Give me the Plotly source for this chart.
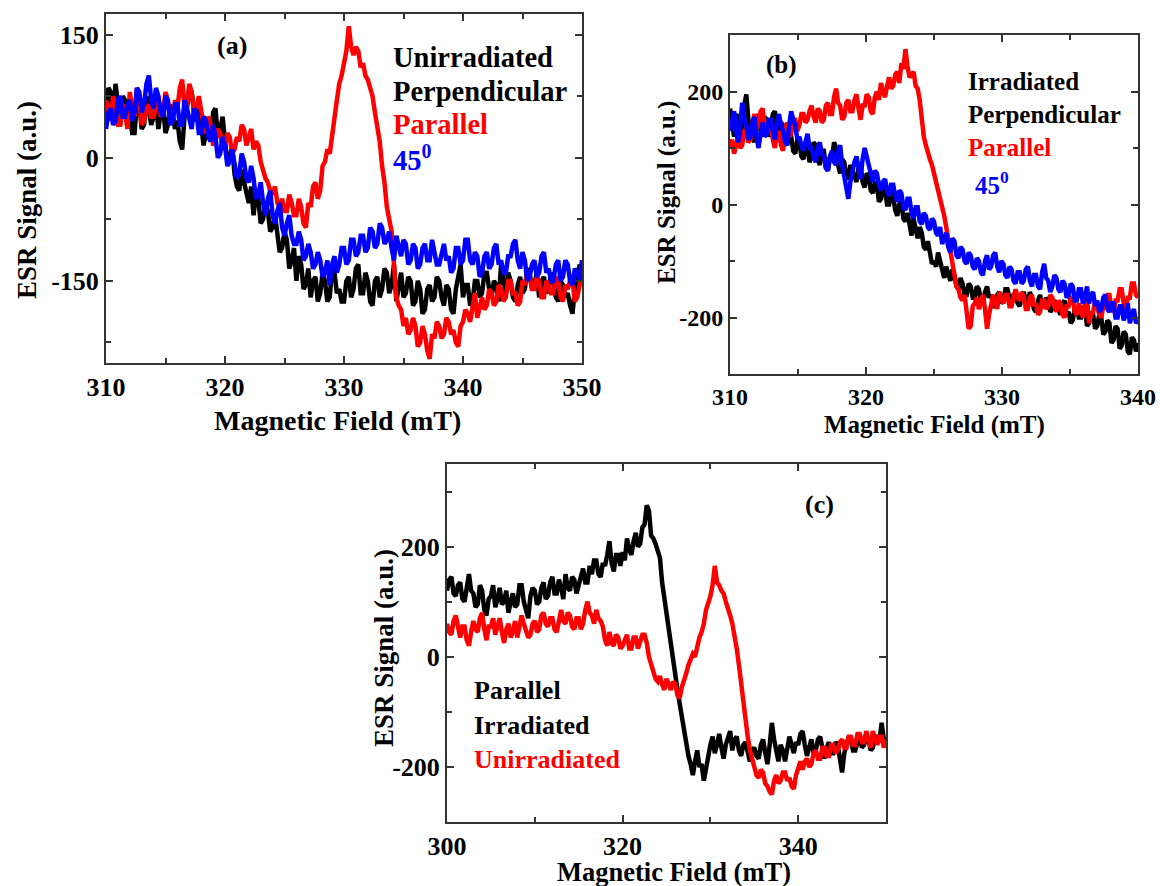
import numpy as np
import plotly.graph_objects as go

# ================= data: panel (a)  (310-350 mT) =================
a_perpendicular = [
    45, 85, 80, 50, 90, 65, 40, 75, 70, 45, 55, 30, 30, 70, 65, 35, 40, 75, 60, 40,
    50, 70, 35, 55, 60, 30, 40, 65, 55, 35, 45, 20, 10, 50, 60, 85, 80, 55, 45, 60,
    40, 15, 30, 45, 20, 55, 60, 25, 35, 50, 20, -5, 0, 15, -20, -35, -40, -15, -30, -45,
    -55, -35, -70, -45, -50, -80, -75, -55, -65, -90, -85, -70, -95, -115, -110, -90, -100, -135, -125, -110,
    -150, -120, -130, -160, -155, -135, -170, -150, -145, -175, -165, -140, -150, -175, -170, -135, -140, -165, -160, -175,
    -175, -150, -145, -170, -160, -135, -130, -165, -165, -140, -150, -175, -180, -150, -145, -170, -160, -135, -140, -165,
    -155, -130, -175, -160, -140, -170, -165, -145, -150, -180, -175, -150, -160, -190, -185, -160, -155, -175, -170, -145,
    -150, -170, -180, -155, -160, -185, -190, -160, -145, -130, -170, -155, -155, -180, -175, -150, -150, -170, -165, -140,
    -140, -160, -170, -150, -155, -175, -130, -150, -165, -140, -150, -170, -175, -155, -145, -165, -160, -135, -140, -160,
    -155, -140, -170, -150, -145, -165, -160, -140, -150, -170, -175, -150, -155, -170, -165, -180, -190, -160, -150, -130,
    -145]
a_parallel = [
    70, 55, 45, 75, 60, 40, 40, 65, 55, 35, 80, 60, 50, 85, 70, 40, 45, 60, 65, 50,
    50, 65, 75, 50, 55, 80, 70, 45, 45, 70, 60, 85, 95, 60, 65, 90, 80, 55, 60, 75,
    55, 40, 30, 50, 40, 15, 20, 35, 30, 10, 15, 30, 25, 5, 10, 25, 20, 40, 35, 15,
    25, 35, 10, 20, 15, -5, -15, -25, -30, -40, -45, -35, -55, -60, -50, -65, -65, -45, -55, -70,
    -70, -50, -60, -80, -85, -55, -60, -35, -30, -50, -40, -10, -5, 10, 5, 30, 55, 70, 90, 100,
    115, 130, 160, 135, 125, 135, 130, 110, 115, 100, 95, 85, 75, 55, 40, 20, -10, -30, -60, -75,
    -90, -130, -170, -180, -185, -205, -195, -215, -210, -195, -205, -230, -225, -205, -215, -235, -245, -215, -220, -200,
    -205, -220, -215, -195, -200, -215, -210, -225, -230, -205, -200, -185, -190, -200, -180, -165, -195, -180, -170, -185,
    -180, -160, -165, -180, -175, -155, -160, -175, -170, -150, -150, -165, -165, -180, -175, -150, -155, -140, -145, -160,
    -160, -145, -150, -170, -170, -150, -155, -165, -165, -145, -150, -170, -175, -155, -160, -150, -150, -175, -170, -155,
    -140]
a_45deg = [
    35, 55, 60, 40, 45, 70, 75, 50, 50, 65, 70, 45, 55, 85, 80, 55, 65, 90, 100, 70,
    60, 85, 75, 55, 50, 75, 70, 40, 45, 65, 65, 40, 40, 70, 60, 45, 35, 60, 55, 30,
    30, 50, 45, 25, 20, 40, 25, 0, 5, 25, 15, -10, -5, 10, -10, -25, -20, 5, -5, -25,
    -30, -10, -25, -50, -45, -30, -55, -70, -50, -40, -70, -80, -65, -55, -85, -95, -80, -70, -95, -105,
    -105, -90, -100, -125, -120, -105, -115, -135, -130, -115, -125, -145, -140, -125, -155, -130, -120, -140, -130, -110,
    -110, -130, -125, -100, -100, -120, -115, -95, -95, -115, -110, -85, -90, -110, -105, -80, -85, -105, -100, -90,
    -110, -125, -95, -110, -120, -100, -105, -130, -125, -105, -110, -135, -130, -110, -105, -125, -125, -100, -115, -130,
    -130, -115, -105, -125, -120, -140, -135, -110, -110, -130, -125, -100, -100, -125, -130, -115, -120, -145, -140, -120,
    -115, -135, -130, -110, -105, -130, -125, -140, -140, -120, -120, -105, -100, -125, -135, -115, -125, -150, -145, -130,
    -125, -145, -140, -120, -115, -140, -135, -150, -150, -130, -125, -150, -145, -125, -130, -150, -155, -135, -140, -150,
    -125]

# ================= data: panel (b)  (310-340 mT) =================
b_perpendicular = [
    170, 140, 120, 150, 160, 115, 130, 175, 195, 150, 140, 120, 110, 145, 160, 130, 125, 155, 150, 120,
    135, 160, 165, 130, 115, 145, 140, 110, 105, 130, 120, 95, 90, 115, 110, 85, 80, 105, 100, 75,
    85, 110, 105, 80, 70, 95, 95, 65, 60, 85, 80, 110, 100, 70, 55, 80, 75, 50, 45, 70,
    60, 45, 40, 65, 70, 40, 30, 55, 50, 25, 20, 40, 35, 5, 10, 30, 25, 0, 0, 20,
    15, -10, -20, 0, 5, -25, -30, -15, -40, -55, -25, -45, -60, -40, -50, -75, -80, -65, -90, -105,
    -100, -110, -85, -100, -120, -130, -110, -125, -135, -115, -125, -145, -150, -130, -140, -160, -160, -140, -145, -165,
    -165, -145, -150, -170, -175, -155, -145, -165, -160, -180, -180, -160, -155, -175, -170, -150, -150, -165, -175, -160,
    -160, -175, -180, -160, -155, -170, -175, -155, -165, -185, -190, -170, -160, -180, -180, -165, -170, -190, -185, -170,
    -175, -185, -195, -175, -170, -195, -190, -210, -205, -185, -180, -200, -200, -180, -185, -215, -210, -190, -195, -220,
    -215, -195, -200, -230, -225, -205, -210, -245, -240, -215, -220, -255, -250, -225, -230, -260, -265, -235, -240, -260,
    -245]
b_parallel = [
    100, 115, 90, 105, 120, 100, 105, 130, 135, 110, 115, 145, 160, 135, 140, 165, 170, 140, 125, 150,
    140, 115, 100, 125, 130, 105, 95, 130, 145, 120, 125, 150, 150, 130, 140, 160, 160, 145, 150, 165,
    175, 155, 145, 170, 165, 145, 150, 175, 180, 160, 160, 190, 205, 180, 175, 150, 155, 180, 185, 165,
    165, 185, 195, 170, 150, 175, 175, 195, 190, 165, 160, 190, 200, 185, 215, 200, 190, 210, 225, 205,
    210, 230, 235, 215, 250, 240, 275, 245, 225, 230, 235, 210, 205, 185, 150, 120, 105, 90, 80, 70,
    55, 45, 25, 15, -5, -20, -40, -60, -85, -110, -130, -145, -150, -165, -170, -160, -190, -220, -215, -180,
    -175, -165, -185, -170, -160, -185, -220, -195, -180, -160, -170, -185, -155, -165, -175, -160, -160, -180, -180, -165,
    -150, -165, -170, -155, -165, -185, -185, -165, -160, -180, -175, -195, -190, -170, -170, -185, -180, -160, -165, -180,
    -190, -170, -175, -195, -200, -180, -180, -165, -165, -190, -195, -175, -185, -200, -175, -165, -210, -195, -190, -170,
    -180, -195, -200, -180, -175, -160, -160, -185, -190, -170, -170, -150, -150, -175, -185, -165, -165, -140, -140, -160,
    -165]
b_45deg = [
    130, 150, 165, 130, 110, 140, 180, 155, 140, 115, 120, 145, 155, 120, 100, 125, 145, 120, 125, 150,
    150, 130, 115, 145, 160, 140, 130, 110, 105, 140, 165, 150, 140, 115, 120, 105, 95, 110, 125, 100,
    100, 85, 75, 100, 110, 90, 85, 65, 60, 85, 95, 75, 70, 95, 105, 70, 50, 30, 10, 40,
    60, 75, 85, 60, 45, 80, 100, 85, 70, 50, 40, 60, 55, 35, 25, 40, 45, 25, 15, 35,
    35, 15, 5, 25, 20, -5, -10, 10, 10, -15, -25, -5, -5, -30, -35, -15, -20, -40, -45, -25,
    -30, -50, -55, -40, -70, -60, -50, -75, -85, -60, -65, -90, -95, -75, -80, -100, -105, -85, -90, -110,
    -115, -95, -100, -120, -125, -100, -90, -115, -110, -90, -85, -110, -120, -100, -105, -125, -130, -110, -115, -135,
    -140, -120, -120, -140, -135, -115, -110, -135, -145, -125, -125, -145, -150, -120, -105, -130, -135, -155, -145, -125,
    -130, -150, -155, -135, -140, -165, -160, -140, -145, -170, -170, -150, -150, -175, -165, -145, -175, -160, -155, -180,
    -170, -190, -185, -165, -160, -185, -190, -175, -175, -200, -200, -180, -180, -205, -195, -175, -210, -195, -185, -210,
    -205]

# ================= data: panel (c)  (300-350 mT) =================
c_irradiated = [
    120, 140, 145, 115, 110, 130, 135, 105, 100, 125, 150, 120, 115, 90, 95, 130, 120, 85, 75, 105,
    110, 130, 90, 105, 125, 95, 100, 120, 80, 100, 115, 90, 95, 130, 130, 100, 85, 70, 110, 125,
    120, 95, 100, 125, 135, 105, 110, 135, 145, 115, 115, 140, 125, 105, 150, 125, 120, 145, 140, 115,
    130, 150, 160, 135, 135, 165, 150, 175, 175, 150, 145, 170, 165, 185, 210, 170, 155, 185, 185, 165,
    190, 175, 215, 195, 185, 210, 225, 200, 205, 235, 240, 275, 265, 220, 215, 205, 195, 180, 135, 105,
    85, 55, 15, -10, -35, -60, -85, -110, -130, -155, -180, -195, -215, -190, -170, -200, -195, -225, -200, -175,
    -160, -145, -175, -160, -140, -165, -185, -160, -150, -135, -170, -150, -145, -170, -180, -160, -155, -175, -190, -170,
    -165, -180, -185, -160, -150, -175, -195, -160, -120, -150, -175, -190, -160, -170, -190, -165, -145, -160, -175, -155,
    -160, -140, -135, -160, -180, -165, -150, -175, -170, -150, -145, -165, -185, -165, -155, -175, -175, -155, -160, -185,
    -210, -175, -160, -145, -150, -170, -170, -150, -140, -165, -160, -145, -150, -170, -165, -145, -145, -155, -120, -150,
    -160]
c_unirradiated = [
    60, 45, 40, 65, 75, 50, 35, 55, 55, 30, 20, 45, 65, 50, 45, 70, 80, 50, 30, 55,
    55, 70, 40, 55, 70, 45, 25, 50, 60, 35, 45, 65, 35, 55, 75, 60, 50, 35, 40, 60,
    65, 45, 50, 75, 80, 60, 55, 70, 70, 50, 45, 65, 85, 65, 60, 80, 75, 55, 50, 70,
    70, 50, 60, 85, 100, 80, 75, 60, 85, 70, 65, 55, 30, 20, 45, 25, 20, 40, 35, 15,
    20, 30, 40, 15, 15, 35, 35, 15, 25, 40, 40, 25, 0, -15, -25, -40, -45, -35, -50, -60,
    -40, -50, -60, -45, -50, -70, -75, -55, -45, -30, -15, -5, 5, 0, 20, 35, 45, 60, 85, 95,
    110, 130, 165, 135, 130, 120, 115, 100, 90, 75, 60, 40, 15, -15, -50, -90, -120, -145, -170, -190,
    -200, -215, -220, -205, -210, -230, -235, -245, -250, -225, -215, -230, -225, -210, -210, -225, -220, -235, -240, -215,
    -200, -190, -205, -190, -185, -200, -195, -175, -170, -185, -185, -165, -165, -180, -180, -160, -160, -175, -170, -155,
    -150, -165, -165, -145, -145, -160, -160, -140, -140, -155, -155, -135, -150, -165, -135, -150, -160, -145, -145, -165,
    -150]

# field sweeps (mT): start, stop of each recorded scan
field_a = np.linspace(310.0, 350.0, len(a_parallel))
field_b = np.linspace(310.0, 340.0, len(b_parallel))
field_c = np.linspace(300.0, 350.0, len(c_irradiated))

# ================= ticks and labels =================
a_xticks = [310, 320, 330, 340, 350]
a_yticks = [-150, 0, 150]
b_xticks = [310, 320, 330, 340]
b_yticks = [-200, 0, 200]
c_xticks = [300, 320, 340]
c_yticks = [-200, 0, 200]
x_title = "Magnetic Field (mT)"
y_title = "ESR Signal (a.u.)"

W, H = 1160, 886
FONT = "Liberation Serif"

fig = go.Figure()

def add(x, y, color, xa, ya):
    fig.add_trace(go.Scatter(x=x, y=y, mode="lines",
                             line=dict(color=color, width=4.5),
                             xaxis=xa, yaxis=ya, showlegend=False, hoverinfo="skip"))

add(field_a, a_perpendicular, "#000000", "x", "y")
add(field_a, a_parallel, "#ff0000", "x", "y")
add(field_a, a_45deg, "#0000ff", "x", "y")
add(field_b, b_perpendicular, "#000000", "x2", "y2")
add(field_b, b_parallel, "#ff0000", "x2", "y2")
add(field_b, b_45deg, "#0000ff", "x2", "y2")
add(field_c, c_irradiated, "#000000", "x3", "y3")
add(field_c, c_unirradiated, "#ff0000", "x3", "y3")

def px(x0, x1):
    return [x0 / W, x1 / W]

def py(y0, y1):
    return [1 - y1 / H, 1 - y0 / H]

def axis(domain, rng, vals, mdtick, size, anchor):
    return dict(domain=domain, range=rng, tickmode="array", tickvals=vals,
                ticktext=[str(v) for v in vals],
                showline=True, linecolor="#333333", linewidth=2,
                mirror="allticks", ticks="inside", ticklen=7, tickwidth=1.5,
                tickcolor="#333333", showgrid=False, zeroline=False,
                anchor=anchor,
                minor=dict(tickmode="linear", dtick=mdtick, tick0=0, ticks="inside",
                           ticklen=5, tickwidth=1.5, tickcolor="#333333", showgrid=False),
                tickfont=dict(family=FONT, size=size, color="#000000", weight=700))

fig.update_layout(
    width=W, height=H, margin=dict(l=0, r=0, t=0, b=0, autoexpand=False),
    paper_bgcolor="white", plot_bgcolor="white",
    xaxis=axis(px(106, 582), [310, 350], a_xticks, 5, 26, "y"),
    yaxis=axis(py(14, 363), [-250, 175], a_yticks, 75, 26, "x"),
    xaxis2=axis(px(730, 1138), [310, 340], b_xticks, 5, 24, "y2"),
    yaxis2=axis(py(35, 374), [-300, 300], b_yticks, 100, 24, "x2"),
    xaxis3=axis(px(447, 886), [300, 350], c_xticks, 10, 26, "y3"),
    yaxis3=axis(py(464, 822), [-300, 350], c_yticks, 100, 26, "x3"),
)

def note(text, x, y, size, color="#000000", xanchor="left", angle=0):
    fig.add_annotation(text=text, x=x / W, y=1 - y / H, xref="paper", yref="paper",
                       xanchor=xanchor, yanchor="middle", showarrow=False, textangle=angle,
                       font=dict(family=FONT, size=size, color=color, weight=700))

# panel (a)
note("(a)", 232, 45, 26, xanchor="center")
note("Unirradiated", 391, 57, 28.5)
note("Perpendicular", 391, 91, 28.5)
note("Parallel", 391, 124, 28.5, "#ff0000")
note("45<sup>0</sup>", 391, 158, 28.5, "#0000ff")
note(x_title, 337, 420, 28, xanchor="center")
note(y_title, 27, 200, 27, xanchor="center", angle=-90)
# panel (b)
note("(b)", 781, 65, 25, xanchor="center")
note("Irradiated", 966, 82, 25)
note("Perpendicular", 966, 115, 25)
note("Parallel", 966, 148, 25, "#ff0000")
note("45<sup>0</sup>", 973, 183, 25, "#0000ff")
note(x_title, 934, 425, 25, xanchor="center")
note(y_title, 667, 193, 25, xanchor="center", angle=-90)
# panel (c)
note("(c)", 819, 505, 26, xanchor="center")
note("Parallel", 472, 690, 26)
note("Irradiated", 472, 725, 26)
note("Unirradiated", 472, 759, 26, "#ff0000")
note(x_title, 674, 872, 26.5, xanchor="center")
note(y_title, 384, 648, 27, xanchor="center", angle=-90)

fig.write_html("out.html")
